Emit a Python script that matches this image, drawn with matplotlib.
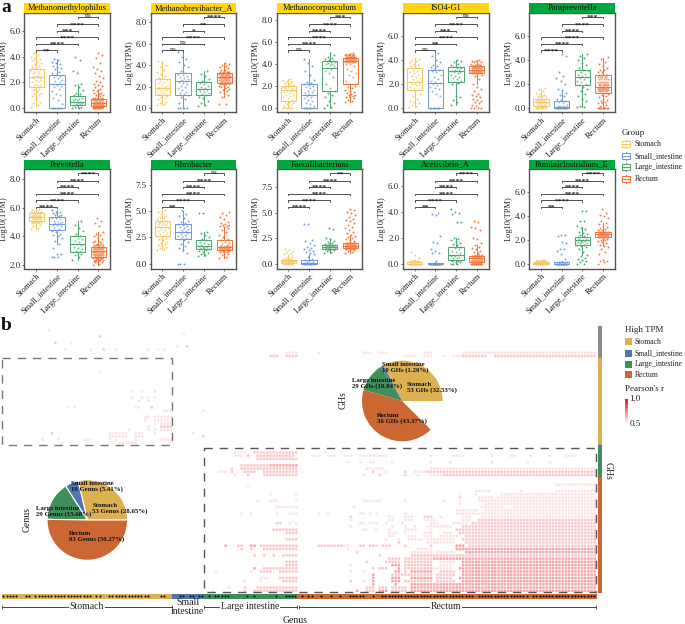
#!/usr/bin/python
# Ten TPM box/strip panels over a genus vs GH correlation matrix with two pies.
import numpy as np
import matplotlib
matplotlib.use('Agg')
import matplotlib.pyplot as plt
from matplotlib.colors import LinearSegmentedColormap
from matplotlib.patches import Rectangle

plt.rcParams['font.family'] = ['Liberation Serif', 'DejaVu Serif']

W, H = 685, 624

sites = ['Stomach', 'Small_intestine', 'Large_intestine', 'Rectum']
site_colors = ['#F5C964', '#6E9BD6', '#4EA872', '#F0763A']
pie_colors = ['#DDB052', '#4F76B0', '#3F8F5B', '#CC6633']

titles = ['Methanomethylophilus', 'Methanobrevibacter_A', 'Methanocorpusculum', 'ISO4-G1', 'Paraprevotella',
          'Prevotella', 'Fibrobacter', 'Faecalibacterium', 'Acetivibrio_A', 'Ruminiclostridium_E']
title_colors = ['#FFD60F'] * 4 + ['#00A640'] * 6

y_ticks = [[0, 2, 4, 6], [0, 2, 4, 6, 8], [0, 2, 4, 6, 8], [0, 2, 4, 6], [0, 2, 4, 6],
           [2, 4, 6, 8], [0, 2.5, 5, 7.5], [0, 2.5, 5, 7.5], [0, 2, 4, 6], [0, 2, 4, 6]]
y_limits = [(-0.335, 7.40), (-0.40, 8.90), (-0.36, 8.67), (-0.33, 7.91), (-0.34, 7.97),
            (1.77, 8.67), (-0.475, 8.99), (-0.49, 9.31), (-0.38, 7.26), (-0.42, 7.96)]

# significance for pairs (1,2) (1,3) (1,4) (2,3) (2,4) (3,4)
pairs = [(1, 2), (1, 3), (1, 4), (2, 3), (2, 4), (3, 4)]
sig_labels = [['**', '****', '****', '***', '****', 'ns'],
              ['ns', 'ns', '****', '*', '**', '****'],
              ['ns', '****', '****', '****', '****', '***'],
              ['ns', '**', '****', '***', '****', 'ns'],
              ['****', '****', '****', '****', '****', '***'],
              ['****', '****', '****', '****', '****', '****'],
              ['**', '****', '****', '****', '****', 'ns'],
              ['****', '****', '****', '****', '****', '**'],
              ['**', '****', '****', '****', '****', '****'],
              ['**', '****', '****', '****', '****', '****']]

# box stats per panel and site: whisker low, q1, median, q3, whisker high
box_stats = [
    [(0.1, 1.65, 2.4, 3.0, 4.3), (0, 0, 1.9, 2.6, 3.8), (0, 0.2, 0.5, 0.9, 1.9), (0, 0.15, 0.4, 0.7, 1.5)],
    [(0.3, 1.2, 1.9, 2.7, 4.4), (0, 1.2, 2.5, 3.3, 5.2), (0.3, 1.2, 1.8, 2.4, 3.5), (1.0, 2.3, 2.9, 3.3, 4.2)],
    [(0, 0.7, 1.7, 2.0, 2.7), (0, 0, 1.2, 2.2, 4.5), (0, 1.6, 3.7, 4.3, 5.0), (0.6, 2.2, 4.3, 4.6, 5.0)],
    [(0.1, 1.5, 2.2, 3.3, 4.2), (0, 0, 2.1, 3.2, 4.6), (0.3, 2.2, 3.1, 3.4, 4.0), (2.0, 2.9, 3.2, 3.5, 4.0)],
    [(0, 0.2, 0.5, 0.75, 1.6), (0, 0, 0.1, 0.6, 1.5), (0.1, 1.9, 2.6, 3.2, 4.5), (0, 1.3, 1.8, 2.8, 4.2)],
    [(4.5, 5.05, 5.35, 5.6, 5.85), (3.5, 4.45, 4.85, 5.35, 5.8), (2.4, 2.95, 3.5, 4.05, 5.1), (2.0, 2.6, 3.0, 3.3, 4.3)],
    [(1.3, 2.6, 3.5, 4.1, 5.1), (1.2, 2.35, 3.05, 3.75, 5.0), (0.7, 1.4, 1.7, 2.2, 3.0), (0.5, 1.3, 1.6, 2.25, 3.5)],
    [(0, 0.1, 0.25, 0.4, 0.85), (0, 0, 0.1, 0.4, 0.9), (1.0, 1.4, 1.65, 1.85, 2.5), (1.0, 1.5, 1.75, 2.0, 2.8)],
    [(0, 0, 0, 0.1, 0.25), (0, 0, 0, 0.05, 0.1), (0, 0.3, 0.7, 1.3, 2.0), (0, 0.1, 0.4, 0.6, 1.4)],
    [(0, 0, 0.05, 0.15, 0.3), (0, 0, 0, 0.1, 0.2), (0.7, 1.6, 2.0, 2.25, 3.1), (1.5, 2.2, 2.5, 2.7, 3.4)],
]

# strip values
pts_methanomethylophilus = [
    [0.1, 0.2, 0.4, 0.5, 0.7, 0.9, 1.0, 1.1, 1.2, 1.3, 1.4, 1.5, 1.5, 1.6, 1.7, 1.8, 1.8, 1.9, 2.0, 2.0, 2.1, 2.2, 2.2, 2.3, 2.3, 2.4,
     2.4, 2.5, 2.5, 2.6, 2.6, 2.7, 2.7, 2.8, 2.9, 2.9, 3.0, 3.0, 3.1, 3.2, 3.3, 3.4, 3.5, 3.6, 3.7, 3.8, 3.9, 4.0, 4.1, 4.3],
    [0.0] * 8 + [0.3, 0.6, 0.8, 1.0, 1.1, 1.3, 1.5, 1.6, 1.7, 1.8, 1.9, 2.0, 2.1, 2.2, 2.3, 2.4, 2.5, 2.6, 2.7, 2.8, 3.0, 3.1, 3.2,
                 3.3, 3.4, 3.5, 3.6, 3.7, 3.8],
    [0.0, 0.0, 0.1, 0.1, 0.2, 0.2, 0.3, 0.3, 0.4, 0.4, 0.5, 0.5, 0.6, 0.6, 0.7, 0.7, 0.8, 0.9, 1.0, 1.1, 1.2, 1.4, 1.6, 1.8, 1.9, 2.7,
     2.9, 3.7, 4.0],
    [0.0] * 8 + [0.1] * 10 + [0.2] * 12 + [0.3] * 12 + [0.4] * 12 + [0.5] * 10 + [0.6] * 8 + [0.7] * 6 + [0.8] * 4 +
    [0.9, 1.0, 1.0, 1.1, 1.2, 1.2, 1.3, 1.4, 1.5, 1.6, 1.7, 1.8, 1.9, 2.0, 2.1, 2.3, 2.5, 2.7, 2.9, 3.0, 3.2, 3.5, 3.9, 4.1, 4.3],
]
pts_methanobrevibacter = [
    [0.3, 0.4, 0.5, 0.6, 0.7, 0.8, 0.9, 1.0, 1.1, 1.2, 1.3, 1.3, 1.4, 1.5, 1.5, 1.6, 1.7, 1.7, 1.8, 1.8, 1.9, 1.9, 2.0, 2.0, 2.1, 2.2,
     2.3, 2.4, 2.5, 2.6, 2.7, 2.8, 3.0, 3.2, 3.4, 3.6, 3.8, 4.0, 4.2, 4.4],
    [0.0] * 5 + [0.5, 0.8, 1.0, 1.2, 1.3, 1.4, 1.5, 1.7, 1.9, 2.0, 2.1, 2.2, 2.3, 2.4, 2.5, 2.6, 2.7, 2.8, 2.9, 3.0, 3.1, 3.2, 3.3,
                 3.5, 3.8, 4.0, 4.3, 4.6, 4.8, 5.2],
    [0.2, 0.3, 0.5, 0.7, 0.9, 1.0, 1.2, 1.3, 1.4, 1.5, 1.6, 1.7, 1.8, 1.8, 1.9, 2.0, 2.1, 2.2, 2.3, 2.4, 2.5, 2.7, 3.0, 3.2, 3.5],
    [0.4, 0.4, 1.0, 1.2, 1.4, 1.5, 1.6, 1.7, 1.8, 1.9, 2.0, 2.0, 2.1, 2.1] + [2.2] * 5 + [2.4] * 8 + [2.6] * 10 + [2.8] * 12 +
    [3.0] * 12 + [3.2] * 10 + [3.4] * 6 + [3.6, 3.6, 3.7, 3.8, 3.8, 3.9, 4.0, 4.1, 4.2],
]
pts_methanocorpusculum = [
    [0.0] * 4 + [0.1, 0.2, 0.3, 0.4, 0.5, 0.6, 0.7, 0.8, 0.9, 1.0, 1.1, 1.2, 1.3, 1.4, 1.5, 1.6, 1.6, 1.7, 1.7, 1.8, 1.8, 1.9, 1.9, 2.0,
                 2.0, 2.1, 2.2, 2.3, 2.4, 2.5, 2.6, 2.7],
    [0.0] * 8 + [0.2, 0.4, 0.5, 0.7, 0.8, 0.9, 1.0, 1.1, 1.2, 1.3, 1.4, 1.5, 1.6, 1.7, 1.8, 1.9, 2.0, 2.1, 2.2, 2.3, 2.4, 2.6, 3.0,
                 3.4, 3.8, 4.1, 4.5],
    [0.0, 0.1, 0.3, 0.5, 0.7, 1.0, 1.2, 1.4, 1.6, 1.8, 2.2, 2.8, 3.2, 3.4, 3.6, 3.7, 3.8, 3.9, 4.0, 4.0, 4.1, 4.2, 4.2, 4.3, 4.3, 4.4,
     4.5, 4.6, 4.7, 4.8, 5.0],
    [0.6, 0.7, 0.8, 0.9, 1.0, 1.0, 1.1, 1.2, 1.2, 1.3, 1.4, 1.5, 1.6, 1.7, 1.8, 1.9, 2.0, 2.2, 2.5, 2.8, 3.0, 3.2, 3.4, 3.6, 3.8, 4.0,
     4.0] + [4.2] * 8 + [4.3] * 10 + [4.4] * 12 + [4.5] * 12 + [4.6] * 10 + [4.7] * 8 + [4.8] * 6 + [4.9, 4.9, 5.0],
]
pts_iso4 = [
    [0.1, 0.2, 0.3, 0.4, 0.5, 0.6, 0.8, 1.0, 1.2, 1.4, 1.5, 1.6, 1.7, 1.8, 1.9, 2.0, 2.0, 2.1, 2.2, 2.3, 2.4, 2.5, 2.6, 2.7, 2.8, 2.9,
     3.0, 3.1, 3.2, 3.3, 3.4, 3.5, 3.6, 3.7, 3.8, 3.9, 4.0, 4.1, 4.2],
    [0.0] * 8 + [1.0, 1.2, 1.4, 1.6, 1.7, 1.8, 1.9, 2.0, 2.1, 2.2, 2.3, 2.4, 2.6, 2.8, 3.0, 3.1, 3.2, 3.3, 3.4, 3.5, 3.6, 3.8, 4.0,
                 4.3, 4.6],
    [0.3, 0.5, 0.7, 0.9, 1.0, 2.0, 2.1, 2.2, 2.3, 2.4, 2.5, 2.6, 2.7, 2.8, 2.9, 3.0, 3.0, 3.1, 3.1, 3.2, 3.2, 3.3, 3.3, 3.4, 3.4, 3.5,
     3.6, 3.7, 3.8, 3.9, 4.0],
    [0.0] * 4 + [0.2, 0.3, 0.4, 0.5, 0.6, 0.7, 0.8, 0.9, 1.0, 1.1, 1.2, 1.4, 1.6, 1.8, 2.0, 2.4, 2.7, 2.8] + [2.9] * 5 + [3.0] * 8 +
    [3.1] * 10 + [3.2] * 12 + [3.3] * 12 + [3.4] * 10 + [3.5] * 8 + [3.6, 3.6, 3.7, 3.7, 3.8, 3.8, 3.9, 3.9, 4.0],
]
pts_paraprevotella = [
    [0.0] * 6 + [0.1] * 4 + [0.2] * 5 + [0.3] * 5 + [0.4] * 5 + [0.5] * 5 + [0.6] * 5 + [0.7] * 4 + [0.8, 0.8, 0.9, 0.9, 1.0, 1.0, 1.1, 1.2, 1.3, 1.4, 1.6, 1.7],
    [0.0] * 12 + [0.1] * 6 + [0.2] * 3 + [0.3, 0.4, 0.5, 0.6, 0.7, 0.8, 1.0, 1.1, 1.3, 1.5, 1.6, 2.0, 2.3, 2.5, 2.7, 3.0, 4.4, 4.5],
    [0.1, 0.1, 0.2, 0.6, 0.8, 1.0, 1.2, 1.4, 1.6, 1.8, 1.9, 2.0, 2.2, 2.3, 2.4, 2.5, 2.6, 2.7, 2.8, 2.9, 3.0, 3.1, 3.2, 3.4, 3.6, 3.8,
     4.0, 4.2, 4.4, 4.5],
    [0.0] * 10 + [0.2, 0.3, 0.4, 0.4, 0.5, 0.6, 0.7, 0.8, 0.9, 1.0, 1.1, 1.2, 1.3] + [1.4] * 5 + [1.5] * 6 + [1.6] * 7 + [1.7] * 7 +
    [1.8] * 7 + [1.9] * 6 + [2.0] * 6 + [2.2] * 6 + [2.4] * 5 + [2.6] * 5 + [2.8] * 5 + [3.0, 3.0, 3.2, 3.2, 3.4, 3.5, 3.7, 3.9, 4.1, 4.3],
]
pts_prevotella = [
    [4.5, 4.6, 4.7, 4.8, 4.8, 4.9, 4.9] + [5.0] * 4 + [5.1] * 5 + [5.2] * 6 + [5.3] * 7 + [5.4] * 7 + [5.5] * 6 + [5.6] * 5 + [5.7] * 4 + [5.8, 5.8, 5.9],
    [2.6, 2.6, 2.6, 2.8, 2.8, 3.2, 3.5, 3.7, 3.9, 4.0, 4.1, 4.2, 4.3, 4.4, 4.5, 4.6, 4.7, 4.8, 4.8, 4.9, 4.9, 5.0, 5.0, 5.1, 5.2, 5.3,
     5.3, 5.4, 5.5, 5.5, 5.6, 5.6, 5.7, 5.7, 5.8],
    [2.4, 2.6, 2.7, 2.8, 2.9, 2.9, 3.0, 3.0, 3.1, 3.2, 3.3, 3.4, 3.5, 3.5, 3.6, 3.7, 3.8, 3.9, 4.0, 4.0, 4.2, 4.4, 4.6, 4.8, 5.1],
    [2.0, 2.1, 2.2, 2.2, 2.3, 2.3] + [2.4] * 5 + [2.5] * 6 + [2.6] * 8 + [2.7] * 9 + [2.8] * 10 + [2.9] * 10 + [3.0] * 9 + [3.1] * 8 +
    [3.2] * 7 + [3.3] * 5 + [3.4] * 4 + [3.5, 3.5, 3.6, 3.6, 3.7, 3.8, 3.9, 4.0, 4.1, 4.2, 4.3, 4.7, 4.9, 5.1, 5.3],
]
pts_fibrobacter = [
    [1.3, 1.4, 1.5, 1.6, 1.7, 1.8, 1.9, 2.0, 2.1, 2.2, 2.3, 2.4, 2.5, 2.6, 2.7, 2.8, 2.9, 3.0, 3.1, 3.2, 3.3, 3.4, 3.5, 3.6, 3.7, 3.7,
     3.8, 3.8, 3.9, 3.9, 4.0, 4.0, 4.1, 4.1, 4.2, 4.3, 4.4, 4.5, 4.7, 4.9, 5.1],
    [0.0, 0.0, 0.0, 1.0, 1.3, 1.5, 1.7, 1.9, 2.1, 2.2, 2.3, 2.4, 2.5, 2.6, 2.7, 2.8, 2.9, 3.0, 3.0, 3.1, 3.2, 3.3, 3.4, 3.5, 3.6, 3.7,
     3.8, 3.9, 4.0, 4.1, 4.3, 4.5, 4.7, 5.1],
    [0.7, 0.8, 0.9, 1.0, 1.1, 1.2, 1.3, 1.4, 1.4, 1.5, 1.5, 1.6, 1.6, 1.7, 1.7, 1.8, 1.9, 2.0, 2.1, 2.2, 2.3, 2.5, 2.7, 2.9, 3.0, 4.8, 4.8],
    [0.5, 0.6, 0.8, 0.9, 1.0, 1.1, 1.1, 1.2, 1.2] + [1.3] * 8 + [1.4] * 14 + [1.5] * 14 + [1.6] * 10 + [1.7] * 6 +
    [1.8, 1.9, 2.0, 2.1, 2.2, 2.3, 2.5, 2.7, 3.0, 3.2, 3.4, 3.5, 3.6, 3.6, 3.7, 3.7, 3.8, 3.9, 4.0, 4.2, 4.4, 4.6, 4.8, 4.9],
]
pts_faecalibacterium = [
    [0.0] * 5 + [0.1] * 7 + [0.2] * 8 + [0.3] * 8 + [0.4] * 6 + [0.5, 0.5, 0.6, 0.7, 0.8, 0.9, 1.0, 1.1, 1.2, 1.3, 1.4],
    [0.0] * 10 + [0.1] * 5 + [0.2, 0.2, 0.3, 0.4, 0.5, 0.7, 0.9, 1.0, 1.1, 1.2, 1.3, 1.4, 1.5, 1.6, 1.8, 2.0, 2.2, 2.3, 3.9, 3.9],
    [1.0, 1.1, 1.2, 1.3, 1.3, 1.4, 1.4] + [1.5] * 4 + [1.6] * 5 + [1.7] * 5 + [1.8] * 4 + [1.9, 1.9, 2.0, 2.1, 2.2, 2.4, 2.5, 3.4, 3.5],
    [1.0, 1.1, 1.2, 1.3, 1.3, 1.4, 1.4] + [1.5] * 10 + [1.6] * 14 + [1.7] * 14 + [1.8] * 14 + [1.9] * 12 + [2.0] * 8 +
    [2.2, 2.3, 2.4, 2.5, 2.6, 2.7, 2.8, 3.0, 3.1, 3.3, 3.5, 3.6, 3.8, 4.0, 4.2, 4.3, 4.4, 4.6, 4.8, 5.0, 5.1, 5.3, 5.4],
]
pts_acetivibrio = [
    [0.0] * 16 + [0.1] * 8 + [0.2] * 4 + [0.3, 0.4, 0.7, 0.9],
    [0.0] * 22 + [0.2, 0.8, 0.8, 1.0, 1.1, 1.6, 1.7, 2.1, 3.7, 3.8, 3.9],
    [0.0, 0.0, 0.0, 0.1, 0.1, 0.2, 0.2, 0.3, 0.3, 0.4, 0.4, 0.5, 0.6, 0.6, 0.7, 0.7, 0.8, 0.9, 1.0, 1.1, 1.2, 1.3, 1.4, 1.5, 1.6, 1.7,
     1.8, 1.9, 2.0, 3.2, 3.2, 3.8, 3.9, 4.0, 4.2],
    [0.0] * 14 + [0.1] * 12 + [0.2] * 12 + [0.3] * 12 + [0.4] * 10 + [0.5] * 8 + [0.6] * 6 + [0.7] * 3 +
    [0.8, 0.9, 1.0, 1.1, 1.2, 1.3, 1.4, 1.6, 1.9, 2.0, 2.6, 2.7, 2.8, 3.2, 3.3],
]
pts_ruminiclostridium = [
    [0.0] * 14 + [0.1] * 10 + [0.2] * 6 + [0.3] * 3,
    [0.0] * 20 + [0.1] * 4 + [0.4, 0.8, 1.1, 1.2, 1.2, 1.7, 1.8, 2.3, 2.4, 2.4],
    [0.0, 0.0, 0.1, 0.2, 0.3, 0.4, 0.5, 0.6, 0.7, 1.0, 1.2, 1.4, 1.5, 1.6, 1.6, 1.7, 1.7, 1.8, 1.8, 1.9, 1.9, 2.0, 2.0, 2.1, 2.1, 2.2,
     2.2, 2.3, 2.4, 2.5, 2.6, 2.7, 2.9, 3.0, 3.2, 3.6, 3.6, 4.4, 4.4],
    [0.0, 0.1, 0.2, 0.2, 0.3, 0.8, 1.0, 1.2, 1.4, 1.5, 1.6, 1.7, 1.8, 1.9, 2.0, 2.0, 2.1, 2.1] + [2.2] * 6 + [2.3] * 8 + [2.4] * 10 +
    [2.5] * 10 + [2.6] * 9 + [2.7] * 6 + [2.8, 2.8, 2.9, 3.0, 3.1, 3.2, 3.3, 3.4, 3.6, 3.8, 4.0, 4.1, 4.3, 4.6],
]
strip_values = [pts_methanomethylophilus, pts_methanobrevibacter, pts_methanocorpusculum, pts_iso4, pts_paraprevotella,
                pts_prevotella, pts_fibrobacter, pts_faecalibacterium, pts_acetivibrio, pts_ruminiclostridium]

# pie wedges (the GHs pie has a blank slice)
genus_shares = [28.65, 5.41, 15.68, 50.27]
ghs_shares = [32.8, 1.2, 11.6, 41.9, 12.5]

# block sizes of the correlation matrix
col_blocks = [53, 10, 29, 93]
row_blocks = [10, 27, 1, 9, 36]
row_block_colors = ['#8C8C8C', pie_colors[0], pie_colors[1], pie_colors[2], pie_colors[3]]
n_rows, n_cols = sum(row_blocks), sum(col_blocks)

# genera marked on the bottom bar, as column runs
marked_cols = [(0, 4), (7, 8), (10, 27), (29, 30), (33, 33), (34, 45), (49, 50), (55, 56), (58, 59), (61, 62), (64, 64), (66, 70),
               (76, 76), (78, 78), (85, 85), (88, 88), (89, 91), (93, 93), (95, 96), (99, 99), (102, 102), (105, 105),
               (108, 112), (115, 115), (118, 127), (128, 130), (131, 146), (148, 163), (165, 178), (179, 184)]

# correlation cells as row: (first col, last col, level)
r_levels = {1: 0.56, 2: 0.62, 3: 0.70}
heat_runs = {
    1: [(14, 14, 1)], 2: [(56, 56, 1)], 3: [(30, 30, 2)], 5: [(16, 16, 2), (21, 21, 1)], 6: [(54, 54, 1), (57, 57, 2)],
    7: [(19, 19, 1), (27, 27, 1), (31, 31, 2), (35, 35, 1), (45, 45, 1), (48, 48, 1), (50, 50, 1)],
    8: [(88, 91, 1), (98, 98, 1), (112, 114, 1), (117, 119, 1), (131, 133, 1), (143, 152, 1), (153, 184, 1)],
    9: [(83, 85, 2), (88, 91, 2), (125, 128, 1), (131, 133, 1), (137, 137, 1), (140, 142, 1), (143, 150, 2), (153, 184, 2)],
    14: [(30, 30, 1)], 20: [(40, 40, 1), (43, 43, 1), (47, 47, 1)], 22: [(40, 40, 1), (43, 43, 1), (45, 45, 1), (47, 47, 1)],
    23: [(42, 42, 1), (45, 45, 1)], 25: [(20, 20, 1), (22, 22, 1), (41, 42, 1), (46, 46, 2)], 26: [(50, 52, 1), (62, 62, 1)],
    28: [(44, 45, 1), (47, 52, 1)], 29: [(44, 44, 1), (47, 52, 1)], 30: [(47, 47, 1), (49, 52, 1)],
    31: [(45, 45, 1), (49, 52, 2)], 32: [(39, 39, 1), (45, 45, 1), (47, 47, 1), (49, 52, 1)],
    33: [(15, 15, 2), (33, 38, 1), (41, 43, 1), (47, 47, 1), (59, 59, 1)],
    34: [(33, 38, 1), (41, 43, 1), (62, 62, 2)],
    35: [(12, 12, 1), (17, 17, 1), (25, 27, 1), (33, 33, 1), (35, 35, 1), (41, 41, 1), (49, 52, 1)],
    36: [(18, 18, 1), (36, 41, 1)],
    39: [(72, 75, 1), (78, 91, 2), (100, 100, 1), (105, 105, 1)],
    40: [(72, 74, 1), (76, 76, 2), (79, 90, 2), (96, 98, 1), (101, 103, 1), (106, 108, 1), (111, 119, 1), (133, 133, 1), (140, 143, 1),
         (152, 152, 1), (158, 159, 1), (164, 164, 1), (170, 170, 1), (175, 178, 1)],
    41: [(79, 91, 2)],
    42: [(107, 107, 1), (111, 111, 1), (114, 115, 1), (121, 121, 1), (133, 133, 1), (139, 139, 1), (152, 152, 1), (163, 163, 1), (170, 170, 1)],
    43: [(74, 91, 2), (83, 91, 3)],
    44: [(71, 71, 2), (74, 91, 2), (113, 118, 1), (133, 184, 1)],
    45: [(67, 69, 1), (71, 71, 2), (75, 78, 2), (81, 91, 2), (115, 115, 2), (119, 119, 1), (125, 125, 2), (128, 131, 1), (132, 184, 2)],
    46: [(72, 72, 1), (76, 76, 2), (81, 91, 2), (112, 112, 1), (117, 117, 2), (125, 125, 2), (129, 129, 1), (133, 136, 1), (137, 184, 2)],
    49: [(172, 184, 1)], 50: [(76, 76, 1)],
    51: [(147, 151, 1), (161, 161, 1), (172, 184, 1)], 52: [(83, 83, 1), (91, 91, 1), (142, 142, 1), (147, 147, 1), (155, 184, 1)],
    53: [(142, 142, 2), (148, 152, 1), (154, 184, 1)],
    54: [(79, 79, 1), (83, 85, 1), (91, 91, 1), (112, 117, 1), (125, 125, 1), (137, 137, 1), (142, 142, 1), (148, 184, 1)],
    55: [(142, 142, 1), (150, 184, 1)],
    56: [(85, 91, 1), (109, 109, 1), (149, 155, 1), (159, 184, 1)],
    57: [(141, 147, 1), (150, 184, 1)],
    58: [(74, 74, 1), (77, 77, 1), (85, 85, 1), (89, 91, 1), (98, 98, 1), (101, 101, 1), (111, 112, 1), (114, 114, 1), (116, 116, 1),
         (125, 125, 1), (141, 147, 1), (148, 184, 1)],
    59: [(108, 108, 2), (120, 121, 1), (125, 127, 1), (131, 133, 2), (136, 136, 1), (143, 145, 1), (149, 184, 1)],
    60: [(108, 108, 1), (120, 121, 1), (125, 127, 1), (131, 134, 1), (143, 145, 1), (148, 184, 2)],
    61: [(85, 86, 2), (89, 89, 1), (91, 91, 1), (111, 112, 1), (114, 116, 1), (119, 119, 1), (124, 124, 1), (133, 135, 1), (140, 144, 1), (146, 184, 2)],
    62: [(108, 108, 1), (121, 121, 1), (125, 125, 1), (128, 128, 1), (132, 139, 1), (143, 184, 2)],
    63: [(84, 91, 2), (112, 113, 1), (116, 116, 1), (120, 120, 1), (125, 128, 1), (133, 133, 1), (141, 184, 2)],
    64: [(88, 91, 2), (120, 122, 1), (125, 125, 1), (131, 133, 1), (137, 139, 1), (142, 184, 2)],
    65: [(120, 121, 1), (126, 128, 1), (131, 133, 1), (136, 141, 1), (144, 184, 2)],
    66: [(88, 91, 2), (119, 119, 1), (123, 123, 1), (126, 130, 1), (132, 140, 1), (143, 184, 2)],
    67: [(123, 123, 2), (132, 140, 1), (144, 184, 2)],
    68: [(69, 69, 3), (73, 74, 2), (77, 78, 3), (80, 91, 2), (98, 105, 2), (106, 107, 1), (111, 112, 2), (114, 116, 2), (118, 120, 2),
         (125, 125, 2), (133, 133, 2), (141, 143, 3), (145, 184, 2)],
    69: [(74, 74, 2), (77, 77, 2), (81, 91, 2), (107, 107, 1), (119, 119, 1), (129, 133, 1), (141, 143, 3), (144, 184, 3)],
    70: [(110, 110, 2), (127, 133, 1), (135, 140, 1), (144, 184, 3)],
    71: [(78, 78, 2), (81, 81, 2), (84, 84, 2), (87, 91, 2), (117, 117, 2), (127, 133, 2), (134, 184, 2)],
    72: [(120, 123, 2), (125, 133, 2), (134, 184, 3)],
    73: [(88, 91, 2), (113, 113, 2), (119, 123, 2), (125, 133, 2), (136, 140, 1), (143, 184, 3)],
    74: [(88, 91, 2), (108, 108, 1), (121, 123, 3), (125, 133, 2), (136, 139, 1), (143, 184, 3)],
    75: [(78, 78, 3), (81, 91, 2), (115, 115, 2), (117, 119, 2), (123, 123, 3), (125, 133, 2), (134, 139, 1), (142, 184, 3)],
    76: [(66, 66, 1), (77, 77, 1), (80, 83, 2), (86, 91, 2), (108, 108, 1), (112, 112, 1), (122, 123, 3), (125, 125, 2), (127, 133, 3),
         (136, 140, 2), (143, 184, 3)],
    77: [(115, 115, 3), (121, 133, 2), (135, 140, 2), (143, 184, 3)],
    78: [(80, 82, 1), (86, 91, 2), (115, 115, 3), (121, 123, 3), (127, 133, 3), (135, 139, 2), (142, 184, 3)],
    79: [(75, 75, 1), (80, 80, 1), (87, 91, 2), (108, 108, 2), (112, 112, 1), (115, 115, 3), (121, 123, 3), (125, 133, 2), (135, 140, 2), (143, 184, 3)],
    80: [(115, 115, 3), (122, 122, 3), (127, 184, 3)],
    81: [(70, 70, 1), (75, 75, 2), (79, 91, 2), (113, 115, 2), (117, 119, 2), (121, 125, 2), (127, 133, 3), (134, 184, 3)],
    82: [(65, 65, 1), (75, 75, 2), (78, 91, 2), (110, 110, 3), (113, 115, 2), (117, 119, 3), (121, 125, 2), (127, 184, 3)],
}


def px_axes(left, top, right, bottom):
    return fig.add_axes([left / W, 1 - bottom / H, (right - left) / W, (bottom - top) / H])


def draw_panel(left, top, idx):
    height = 99.5
    ax = px_axes(left, top + 9.5, left + 85.5, top + 9.5 + height)
    ax.set_xlim(0.43, 4.57)
    ax.set_ylim(*y_limits[idx])
    for i, values in enumerate(strip_values[idx]):
        # spread the points evenly across the strip width
        offsets = ((np.arange(len(values)) * 0.618) % 1 - 0.5) * 0.52
        ax.scatter(i + 1 + offsets, values, s=2.0, color=site_colors[i], alpha=0.95, lw=0, zorder=2)
        lo, q1, med, q3, hi = box_stats[idx][i]
        stats = [{'whislo': lo, 'q1': q1, 'med': med, 'q3': q3, 'whishi': hi, 'fliers': []}]
        ax.bxp(stats, positions=[i + 1], widths=0.74, showcaps=False, showfliers=False, patch_artist=True, manage_ticks=False,
               boxprops=dict(edgecolor=site_colors[i], facecolor=(1, 1, 1, 0.25), lw=0.75),
               whiskerprops=dict(color=site_colors[i], lw=0.75), medianprops=dict(color=site_colors[i], lw=0.75), zorder=3)
    ax.set_xticks([1, 2, 3, 4])
    ax.set_xticklabels(sites, rotation=45, ha='right', rotation_mode='anchor', fontsize=6, color='#222222')
    ax.set_yticks(y_ticks[idx])
    ax.set_yticklabels(['%.1f' % t for t in y_ticks[idx]], fontsize=6.3, color='#222222')
    ax.tick_params(length=1.5, width=0.5, pad=1.2, color='#333333')
    ax.set_ylabel('Log10(TPM)', fontsize=6, labelpad=1.5, color='#222222')
    for side in ax.spines.values():
        side.set_color('#555555')
        side.set_linewidth(1.0)

    trans = ax.get_xaxis_transform()
    offs = [37.6, 31.3, 24.6, 18, 11.6, 4.2]
    for (a, b), off, label in zip(pairs, offs, sig_labels[idx]):
        yb = 1 - off / height
        ax.plot([a, a, b, b], [yb - 1.2 / height, yb, yb, yb - 1.2 / height], transform=trans, color='#333333', lw=0.6, clip_on=False, zorder=4)
        shift = -0.2 if label == 'ns' else -1.4
        ax.annotate(label, ((a + b) / 2, yb), xycoords=trans, xytext=(0, shift), textcoords='offset points', ha='center', va='baseline',
                    fontsize=5.4, fontweight='bold' if label != 'ns' else 'normal', color='#222222', zorder=5)

    strip = px_axes(left, top, left + 85.5, top + 9.5)
    strip.set_facecolor(title_colors[idx])
    strip.set_xticks([])
    strip.set_yticks([])
    for side in strip.spines.values():
        side.set_visible(False)
    strip.text(0.5, 0.47, titles[idx], transform=strip.transAxes, ha='center', va='center', fontsize=6, color='#111111')


def draw_pie(cx, cy, radius, shares, colors, edge):
    ax = px_axes(cx - radius, cy - radius, cx + radius, cy + radius)
    ax.pie(shares, colors=colors, startangle=0, counterclock=True, radius=1,
           wedgeprops=dict(edgecolor=edge, linewidth=0.8 if edge != 'none' else 0))
    ax.set_xlim(-1, 1)
    ax.set_ylim(-1, 1)
    ax.patch.set_alpha(0)


fig = plt.figure(figsize=(W / 100, H / 100), dpi=100)

# overlay in pixel coordinates for labels and frames
ov = fig.add_axes([0, 0, 1, 1], zorder=5)
ov.set_xlim(0, W)
ov.set_ylim(H, 0)
ov.axis('off')
ov.patch.set_alpha(0)

top_lefts = [24.5, 150.7, 276.7, 403, 529.3]
for k, left in enumerate(top_lefts):
    draw_panel(left, 3.3, k)
    draw_panel(left, 159.6, k + 5)

# correlation matrix, each cell drawn with a pale gap that gets blurred on downsampling
heat = np.full((n_rows, n_cols), 0.5)
for row, runs in heat_runs.items():
    for c0, c1, level in runs:
        heat[row, c0:c1 + 1] = r_levels[level]
cell = 8
heat_fine = np.kron(heat, np.ones((cell, cell)))
heat_fine[np.arange(heat_fine.shape[0]) % cell < 2, :] = 0.5
heat_fine[:, np.arange(heat_fine.shape[1]) % cell < 2] = 0.5
cmap = LinearSegmentedColormap.from_list('whitered', ['#FFFFFF', '#E5141F'])
hax = px_axes(1.7, 325.7, 595.7, 592.3)
hax.imshow(heat_fine, cmap=cmap, vmin=0.5, vmax=1.0, aspect='auto', interpolation='hanning', extent=(0, n_cols, n_rows, 0))
hax.axis('off')

# bottom annotation bar
cax = px_axes(1.7, 594, 595.7, 598)
start = 0
for n, c in zip(col_blocks, pie_colors):
    cax.broken_barh([(start, n)], (0, 1), color=c)
    start += n
for c0, c1 in marked_cols:
    xs = np.arange(c0, c1 + 1) + 0.5
    cax.plot(xs, [0.5] * len(xs), 'o', ms=1.5, color='#111111', mew=0)
cax.set_xlim(0, n_cols)
cax.set_ylim(0, 1)
cax.axis('off')

# right annotation bar
rax = px_axes(597.7, 325.7, 601, 592.3)
start = 0
for n, c in zip(row_blocks, row_block_colors):
    rax.broken_barh([(0, 1)], (start, n), color=c)
    start += n
rax.set_xlim(0, 1)
rax.set_ylim(n_rows, 0)
rax.axis('off')

draw_pie(87.3, 520, 40.3, genus_shares, pie_colors, 'white')
draw_pie(402.3, 401, 40.3, ghs_shares, pie_colors + ['#FFFFFF'], 'none')

# pie labels
pie_text = [(71, 486.3, 'Small intestine\n10 Genus (5.41%)'), (92.5, 508.5, 'Stomach\n53 Genus (28.65%)'),
            (35.7, 511.2, 'Large intestine\n29 Genus (15.68%)'), (69.3, 536.2, 'Rectum\n93 Genus (50.27%)'),
            (381.7, 367.5, 'Small intestine\n10 GHs (1.20%)'), (406.7, 387.5, 'Stomach\n53 GHs (32.53%)'),
            (351.7, 383.5, 'Large intestine\n29 GHs (18.84%)'), (376.7, 418.7, 'Rectum\n36 GHs (43.37%)')]
for x, y, s in pie_text:
    ov.text(x, y, s, fontsize=4.9, fontweight='bold', va='center', ha='left', linespacing=1.0, color='#111111')

ov.text(27, 520, 'Genus', rotation=90, fontsize=7, ha='center', va='center', color='#222222')
ov.text(343.5, 400, 'GHs', rotation=90, fontsize=7, ha='center', va='center', color='#222222')
ov.text(608, 471, 'GHs', rotation=270, fontsize=7, ha='center', va='center', color='#222222')

# dashed frames
ov.add_patch(Rectangle((1.7, 358.3), 170.6, 86.4, fill=False, ec='#777777', lw=1.0, ls=(0, (6, 5))))
ov.add_patch(Rectangle((204.3, 447.7), 391.4, 144.6, fill=False, ec='#555555', lw=1.0, ls=(0, (6, 5))))

# ranges under the bar
for x0, x1 in [(1.7, 172), (204.3, 297), (299, 595.7)]:
    ov.plot([x0, x1], [607, 607], color='#444444', lw=0.7, marker='|', ms=3, mew=0.6)
for x, s in [(87, 'Stomach'), (250, 'Large intestine'), (446, 'Rectum')]:
    ov.text(x, 606.5, s, fontsize=7, ha='center', va='center', color='#222222', bbox=dict(fc='white', ec='none', pad=0.6))
ov.text(187.7, 607, 'Small\nintestine', fontsize=7, ha='center', va='center', linespacing=1.0, color='#222222')
ov.text(295, 620.5, 'Genus', fontsize=7, ha='center', va='center', color='#222222')

# panel letters
ov.text(1, 7, 'a', fontsize=14, fontweight='bold', ha='left', va='center', color='#111111')
ov.text(1, 325, 'b', fontsize=14, fontweight='bold', ha='left', va='center', color='#111111')

# group legend
ov.text(622, 132.7, 'Group', fontsize=6.5, va='center', color='#222222')
for y, s, c in zip([144, 156, 167.3, 179], sites, site_colors):
    ov.plot([625.8, 625.8], [y - 4, y + 4], color=c, lw=0.8)
    ov.add_patch(Rectangle((622, y - 3), 7.6, 6, fc='white', ec=c, lw=0.8, zorder=3))
    ov.plot([622, 629.6], [y, y], color=c, lw=0.8, zorder=4)
    ov.text(634.3, y, s, fontsize=5.6, va='center', color='#222222')

# high TPM legend
ov.text(625, 330, 'High TPM', fontsize=6.5, va='center', color='#222222')
for y, s, c in zip([341.7, 353, 364, 374.7], sites, pie_colors):
    ov.add_patch(Rectangle((625, y - 3.5), 7, 7, fc=c, ec='none'))
    ov.text(634.5, y, s, fontsize=5.6, va='center', color='#222222')
ov.text(625, 389.3, "Pearson's r", fontsize=6.5, va='center', color='#222222')
bar = px_axes(625, 399, 628, 423.5)
bar.imshow(np.linspace(1, 0.5, 40).reshape(-1, 1), cmap=cmap, vmin=0.5, vmax=1.0, aspect='auto')
bar.axis('off')
ov.text(629.7, 399, '1.0', fontsize=6.5, va='center', color='#222222')
ov.text(629.7, 423.5, '0.5', fontsize=6.5, va='center', color='#222222')

fig.savefig('out.png', dpi=100)
